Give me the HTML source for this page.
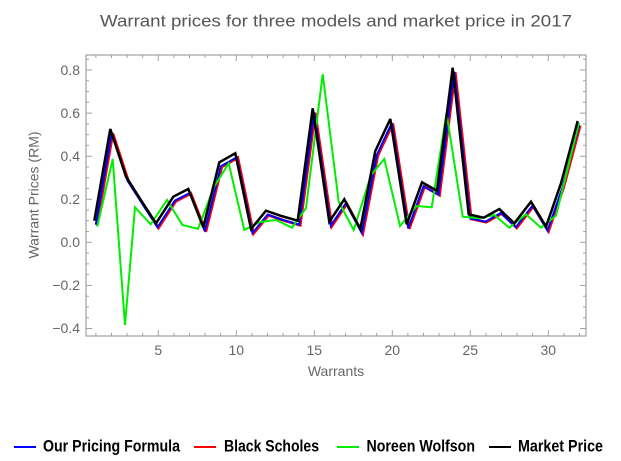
<!DOCTYPE html>
<html>
<head>
<meta charset="utf-8">
<style>
  html,body{margin:0;padding:0;background:#fff;}
  svg{display:block;}
  text{font-family:"Liberation Sans",Arial,sans-serif;}
</style>
</head>
<body>
<svg width="621" height="461" viewBox="0 0 621 461" xmlns="http://www.w3.org/2000/svg">
  <rect x="0" y="0" width="621" height="461" fill="#fff"/>
  <!-- Title -->
  <text x="100" y="26.5" font-size="17" fill="#555" textLength="472" lengthAdjust="spacingAndGlyphs">Warrant prices for three models and market price in 2017</text>

  <!-- Frame -->
  <rect x="86" y="55" width="500" height="281" fill="none" stroke="#a0a0a0" stroke-width="1.2"/>

  <g stroke="#a0a0a0" stroke-width="1">
    <!-- Y major ticks (left & right) -->
    <path d="M86 70h6M86 113.1h6M86 156.2h6M86 199.2h6M86 242.3h6M86 285.4h6M86 328.5h6
             M586 70h-6M586 113.1h-6M586 156.2h-6M586 199.2h-6M586 242.3h-6M586 285.4h-6M586 328.5h-6"/>
    <!-- Y minor ticks -->
    <path d="M86 59.2h3M86 80.8h3M86 91.5h3M86 102.3h3M86 123.9h3M86 134.6h3M86 145.4h3M86 167h3M86 177.7h3M86 188.5h3M86 210.1h3M86 220.8h3M86 231.6h3M86 253.1h3M86 263.9h3M86 274.6h3M86 296.2h3M86 306.9h3M86 317.7h3
             M586 59.2h-3M586 80.8h-3M586 91.5h-3M586 102.3h-3M586 123.9h-3M586 134.6h-3M586 145.4h-3M586 167h-3M586 177.7h-3M586 188.5h-3M586 210.1h-3M586 220.8h-3M586 231.6h-3M586 253.1h-3M586 263.9h-3M586 274.6h-3M586 296.2h-3M586 306.9h-3M586 317.7h-3"/>
    <!-- X major ticks -->
    <path d="M158.3 336v-6M236.3 336v-6M314.3 336v-6M392.3 336v-6M470.3 336v-6M548.3 336v-6
             M158.3 55v6M236.3 55v6M314.3 55v6M392.3 55v6M470.3 55v6M548.3 55v6"/>
    <!-- X minor ticks -->
    <path d="M95.9 336v-3M111.5 336v-3M127.1 336v-3M142.7 336v-3M173.9 336v-3M189.5 336v-3M205.1 336v-3M220.7 336v-3M251.9 336v-3M267.5 336v-3M283.1 336v-3M298.7 336v-3M329.9 336v-3M345.5 336v-3M361.1 336v-3M376.7 336v-3M407.9 336v-3M423.5 336v-3M439.1 336v-3M454.7 336v-3M485.9 336v-3M501.5 336v-3M517.1 336v-3M532.7 336v-3M563.9 336v-3M579.5 336v-3
             M95.9 55v3M111.5 55v3M127.1 55v3M142.7 55v3M173.9 55v3M189.5 55v3M205.1 55v3M220.7 55v3M251.9 55v3M267.5 55v3M283.1 55v3M298.7 55v3M329.9 55v3M345.5 55v3M361.1 55v3M376.7 55v3M407.9 55v3M423.5 55v3M439.1 55v3M454.7 55v3M485.9 55v3M501.5 55v3M517.1 55v3M532.7 55v3M563.9 55v3M579.5 55v3"/>
  </g>

  <!-- Y tick labels -->
  <g font-size="14" fill="#666" text-anchor="end">
    <text x="80" y="75">0.8</text>
    <text x="80" y="118">0.6</text>
    <text x="80" y="161">0.4</text>
    <text x="80" y="204">0.2</text>
    <text x="80" y="247">0.0</text>
    <text x="80" y="290">−0.2</text>
    <text x="80" y="333">−0.4</text>
  </g>
  <!-- X tick labels -->
  <g font-size="14" fill="#666" text-anchor="middle">
    <text x="158.3" y="355">5</text>
    <text x="236.3" y="355">10</text>
    <text x="314.3" y="355">15</text>
    <text x="392.3" y="355">20</text>
    <text x="470.3" y="355">25</text>
    <text x="548.3" y="355">30</text>
  </g>
  <!-- Axis labels -->
  <text x="336" y="376" font-size="14" fill="#666" text-anchor="middle">Warrants</text>
  <text transform="translate(38.5,195) rotate(-90)" font-size="14" fill="#666" text-anchor="middle">Warrant Prices (RM)</text>

  <!-- Series -->
  <g fill="none" stroke-linejoin="miter" stroke-miterlimit="3">
    <!-- Black Scholes (red) -->
    <polyline stroke="#ff0000" stroke-width="2.8" points="96.8,225.2 112.8,133.5 128.5,181.2 144,205.5 158.5,227.8 175.8,201.2 190.8,193.5 205.8,231.8 221.8,166.8 237.8,157.8 253.5,233.5 268.5,215.2 284,220.5 300.2,225.2 315.2,112.8 331.8,226.2 346.8,203.8 362.8,233.5 377.8,155.5 392.8,123.5 409.2,228.8 424.5,186.8 439.5,195.2 455.2,72.2 471.2,218.8 486.2,222.2 501.8,213.5 516.8,227.8 533.5,206.2 548.5,231.2 563.5,187.8 580.2,125.5"/>
    <!-- Our Pricing Formula (blue) -->
    <polyline stroke="#0000ff" stroke-width="2" points="95.8,224.7 111.8,133 127.5,180.7 143,205 157.5,227.3 174.8,200.7 189.8,193 204.8,231.3 220.8,166.3 236.8,157.3 252.5,233 267.5,214.7 283,220 299.2,224.7 314.2,112.3 330.8,225.7 345.8,203.3 361.8,233 376.8,155 391.8,123 408.2,228.3 423.5,186.3 438.5,194.7 454.2,71.7 470.2,218.3 485.2,221.7 500.8,213 515.8,227.3 532.5,205.7 547.5,230.7 562.5,187.3 579.2,125"/>
    <!-- Noreen Wolfson (green) -->
    <polyline stroke="#00ee00" stroke-width="2" points="97.3,226.7 112.7,159 125,325 135,207.3 150.7,224.3 167,200 182.5,225 198,228.8 214,187 228.7,163.3 244.3,230 260,222 276,220 292,227.7 306,208 322.7,74.3 338.7,201.7 353.7,230 371,175 384.3,159 400,226 416.7,206 431.7,207.3 446.5,113 462.7,216.7 479.3,218.3 494.3,215 509.3,227.7 526,214.3 541,227.7 556,215.7 579,123"/>
    <!-- Market Price (black) -->
    <polyline stroke="#000" stroke-width="2.5" points="94.3,220.7 110.3,129 126,176.7 141.5,201 156,223.3 173.3,196.7 188.3,189 203.3,227.3 219.3,162.3 235.3,153.3 251,229 266,210.7 281.5,216 297.7,220.7 312.7,108.3 329.3,221.7 344.3,199.3 360.3,229 375.3,151 390.3,119 406.7,224.3 422,182.3 437,190.7 452.7,67.7 468.7,214.3 483.7,217.7 499.3,209 514.3,223.3 531,201.7 546,226.7 561,183.3 577.7,121"/>
  </g>

  <!-- Legend -->
  <g stroke-width="2">
    <line x1="14" y1="447" x2="36" y2="447" stroke="#0000ff"/>
    <line x1="194" y1="447" x2="216" y2="447" stroke="#ff0000"/>
    <line x1="337" y1="447" x2="359" y2="447" stroke="#00ee00"/>
    <line x1="489" y1="447" x2="511" y2="447" stroke="#000"/>
  </g>
  <g font-size="17" font-weight="bold" fill="#000">
    <text x="43" y="451.5" textLength="137" lengthAdjust="spacingAndGlyphs">Our Pricing Formula</text>
    <text x="224" y="451.5" textLength="95" lengthAdjust="spacingAndGlyphs">Black Scholes</text>
    <text x="366.5" y="451.5" textLength="108.5" lengthAdjust="spacingAndGlyphs">Noreen Wolfson</text>
    <text x="518" y="451.5" textLength="85" lengthAdjust="spacingAndGlyphs">Market Price</text>
  </g>
</svg>
</body>
</html>
